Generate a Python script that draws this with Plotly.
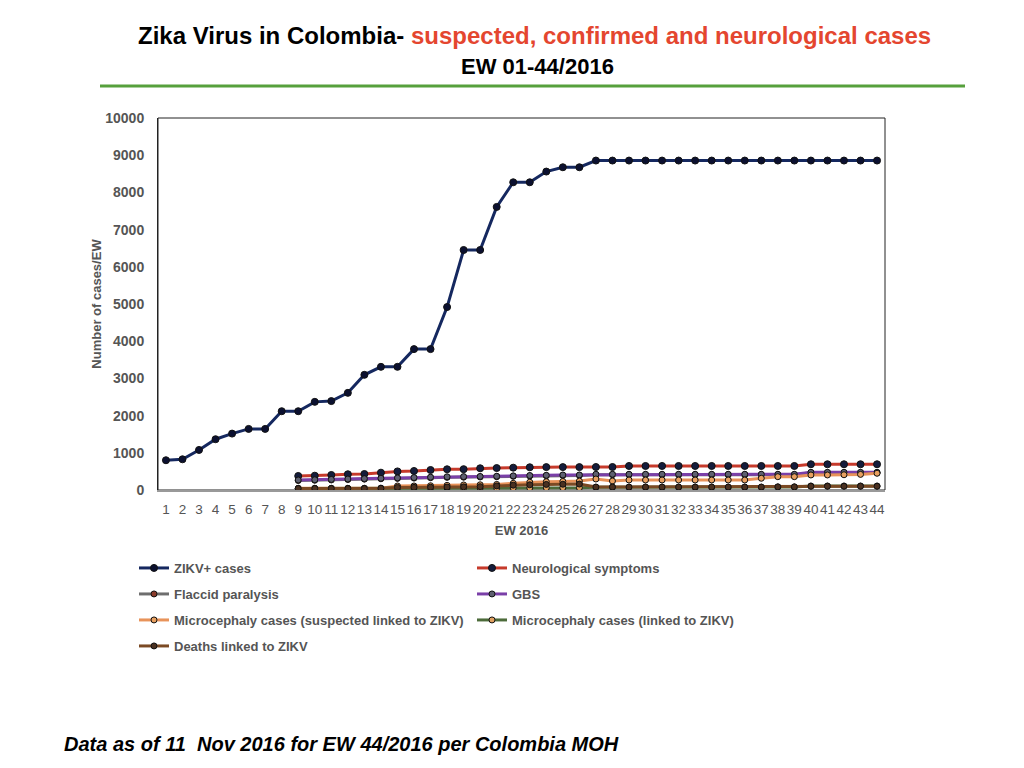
import plotly.graph_objects as go

# --- data (epidemiological weeks 1-44, 2016) ---
weeks = list(range(1, 45))

zikv_cases = [800, 826, 1077, 1365, 1516, 1642, 1642, 2118, 2118, 2369, 2390, 2611,
              3096, 3311, 3311, 3787, 3787, 4918, 6452, 6452, 7610, 8272, 8272, 8560,
              8676, 8676, 8856, 8856, 8856, 8856, 8856, 8856, 8856, 8856, 8856, 8856,
              8856, 8856, 8856, 8856, 8856, 8856, 8856, 8856]

neuro_symptoms = [None, None, None, None, None, None, None, None,
                  377, 385, 404, 423, 430, 466, 500, 511, 538, 557, 560, 584, 590, 600,
                  611, 615, 615, 615, 618, 618, 646, 646, 646, 646, 646, 646, 646, 646,
                  646, 646, 646, 692, 692, 692, 692, 692]

flaccid_paralysis = [None, None, None, None, None, None, None, None,
                     255, 262, 270, 282, 292, 302, 312, 320, 330, 340, 345, 350, 358, 368,
                     378, 384, 392, 392, 410, 410, 410, 410, 410, 410, 410, 410, 410, 410,
                     410, 410, 410, 462, 462, 462, 462, 462]

gbs = [None, None, None, None, None, None, None, None,
       269, 275, 285, 295, 305, 315, 325, 335, 345, 355, 360, 365, 370, 380,
       390, 395, 404, 404, 423, 423, 423, 423, 423, 423, 423, 423, 423, 423,
       423, 423, 423, 476, 476, 476, 476, 476]

micro_suspected = [None, None, None, None, None, None, None, None,
                   46, 46, 46, 46, 46, 50, 108, 108, 115, 125, 135, 140, 150, 180,
                   210, 223, 230, 240, 296, 242, 269, 269, 269, 269, 269, 269, 269, 269,
                   315, 358, 358, 404, 404, 410, 420, 450]

micro_linked = [None, None, None, None, None, None, None, None,
                40, 40, 40, 40, 40, 42, 45, 45, 48, 48, 50, 50, 52, 55,
                55, 58, 60, 60, 73, 73, 73, 73, 73, 73, 73, 73, 73, 73,
                73, 80, 80, 108, 108, 108, 108, 108]

deaths_zikv = [None, None, None, None, None, None, None, None,
               40, 40, 40, 40, 40, 45, 70, 72, 75, 80, 85, 90, 110, 130,
               140, 150, 155, 160, 80, 80, 80, 80, 80, 80, 80, 80, 80, 80,
               80, 85, 85, 100, 100, 100, 100, 100]

series = [
    ("ZIKV+ cases", zikv_cases, "#15285f", "#0b1030", 7, "legend"),
    ("Neurological symptoms", neuro_symptoms, "#c63a2b", "#141c3c", 7, "legend"),
    ("Flaccid paralysis", flaccid_paralysis, "#6e6e6e", "#8a3a2a", 6, "legend2"),
    ("GBS", gbs, "#7a3fa8", "#5e6070", 6, "legend2"),
    ("Microcephaly cases (suspected linked to ZIKV)", micro_suspected, "#e8935a", "#e8a060", 6, "legend3"),
    ("Microcephaly cases (linked to ZIKV)", micro_linked, "#4c6b3a", "#e0a060", 6, "legend3"),
    ("Deaths linked to ZIKV", deaths_zikv, "#7b4a24", "#4a3020", 6, "legend4"),
]

GRAY = "#555555"
FONT = "Liberation Sans, Arial, sans-serif"

fig = go.Figure()
for name, vals, line_col, mk_col, mk_size, leg in series:
    fig.add_trace(go.Scatter(
        x=weeks, y=vals, name=name, mode="lines+markers",
        line=dict(color=line_col, width=3),
        marker=dict(color=mk_col, size=mk_size, line=dict(color="#111111", width=1)),
        legend=leg, connectgaps=False,
    ))

# target plot area on screen: x 158-885, y 118.5-490 (page body adds 8px offset)
PLOT_H = 372.0
fig.update_layout(
    width=1024, height=768,
    margin=dict(l=150, r=147, t=110, b=286, autoexpand=False),
    paper_bgcolor="white", plot_bgcolor="white",
    font=dict(family=FONT, color=GRAY, size=12),
    showlegend=True,
)


def py(screen_y):
    """screen y (px) -> paper y relative to the plot area"""
    return (490 - screen_y) / PLOT_H


def px(screen_x):
    return (screen_x - 158) / 727


leg_common = dict(orientation="h", x=px(134), xanchor="left", yanchor="top",
                  entrywidth=293, bgcolor="rgba(0,0,0,0)",
                  font=dict(family=FONT, size=13, color=GRAY, weight="bold"),
                  itemclick=False)
# legend rows at y = 568, 594, 620, 646 px
for key, top in [("legend", 553), ("legend2", 579), ("legend3", 605), ("legend4", 631)]:
    fig.update_layout({key: dict(leg_common, y=py(top))})

fig.update_xaxes(
    range=[0.52, 44.48], tickmode="linear", tick0=1, dtick=1, tickangle=0,
    showgrid=False, zeroline=False,
    showline=True, linecolor="#999999", linewidth=2,
    ticks="", ticklabelstandoff=6,
    tickfont=dict(family=FONT, size=13.5, color=GRAY),
    title=dict(text="EW 2016", standoff=10,
               font=dict(family=FONT, size=13, color=GRAY, weight="bold")),
)
fig.update_yaxes(
    range=[0, 10000], dtick=1000, tickformat="d", showgrid=False, zeroline=False,
    showline=True, linecolor="#222222", linewidth=1,
    ticks="", ticklabelstandoff=10,
    tickfont=dict(family=FONT, size=14, color=GRAY, weight="bold"),
    title=dict(text="Number of cases/EW", standoff=0,
               font=dict(family=FONT, size=13, color=GRAY, weight="bold")),
)

# plot frame (top / right)
fig.add_shape(type="rect", xref="paper", yref="paper", x0=0, x1=1, y0=0, y1=1,
              line=dict(color="#222222", width=1), layer="below")

# green rule under the title
fig.add_shape(type="line", xref="paper", yref="paper",
              x0=px(100), x1=px(965), y0=py(86), y1=py(86),
              line=dict(color="#56a03c", width=3))

fig.add_annotation(
    xref="paper", yref="paper", x=px(534), y=py(36),
    xanchor="center", yanchor="middle", showarrow=False,
    text="Zika Virus in Colombia- <span style='color:#e4462f'>suspected, confirmed and neurological cases</span>",
    font=dict(family=FONT, size=24, color="black", weight="bold"),
)
fig.add_annotation(
    xref="paper", yref="paper", x=px(537), y=py(67),
    xanchor="center", yanchor="middle", showarrow=False,
    text="EW 01-44/2016",
    font=dict(family=FONT, size=22, color="black", weight="bold"),
)
fig.add_annotation(
    xref="paper", yref="paper", x=px(62), y=py(744),
    xanchor="left", yanchor="middle", showarrow=False,
    text="<i>Data as of 11  Nov 2016 for EW 44/2016 per Colombia MOH</i>",
    font=dict(family=FONT, size=20, color="black", weight="bold"),
)

fig.write_html("out.html")
